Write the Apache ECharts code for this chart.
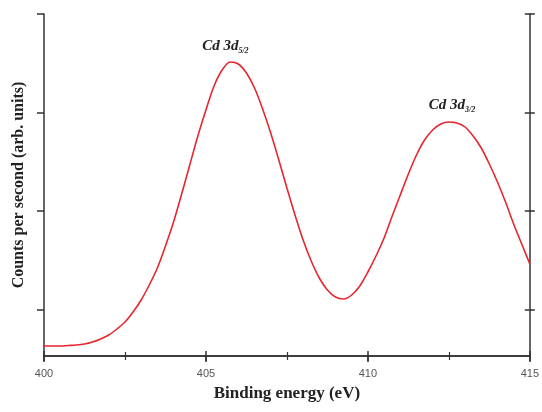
<!DOCTYPE html>
<html><head><meta charset="utf-8">
<script src="https://cdn.jsdelivr.net/npm/echarts@6/dist/echarts.min.js"></script>
<style>html,body{margin:0;padding:0;background:#fff}#c{width:542px;height:412px}</style>
</head><body><div id="c"></div>
<script>
// Binding energy (eV), 0.25 eV steps
var energy = [400,400.25,400.5,400.75,401,401.25,401.5,401.75,402,402.25,402.5,402.75,403,403.25,403.5,403.75,404,404.25,404.5,404.75,405,405.25,405.5,405.75,406,406.25,406.5,406.75,407,407.25,407.5,407.75,408,408.25,408.5,408.75,409,409.25,409.5,409.75,410,410.25,410.5,410.75,411,411.25,411.5,411.75,412,412.25,412.5,412.75,413,413.25,413.5,413.75,414,414.25,414.5,414.75,415];
// Counts (arb. units)
var counts = [10,10,10,10.5,11,12,14,17,21,27,34,44,56,71,88,110,134,162,191,220,246,270,286,294,292,283,268,247,223,196,168,141,116,95,78,66,59,57,61,70,84,100,118,140,161,182,201,216,226,232,234,233,229,220,208,192,174,154,132,112,92];
var xTicks = [400,405,410,415];
var yTicks = [46.5,145,243.5,342];
var peakLabels = [
  {name:'Cd 3d', sub:'5/2', x:405.6, y:310},
  {name:'Cd 3d', sub:'3/2', x:412.6, y:251}
];

var data = energy.map(function(e,i){return [e,counts[i]];});
var axisLine = {show:true, lineStyle:{color:'#333', width:1.5}};
var chart = echarts.init(document.getElementById('c'));
chart.setOption({
  animation:false,
  grid:{left:44, right:9, top:14, bottom:56},
  xAxis:[
    {type:'value', min:400, max:415, interval:5, position:'bottom',
     axisLine:axisLine,
     axisTick:{show:true, length:6, lineStyle:{color:'#333', width:1.5}},
     minorTick:{show:true, splitNumber:2, length:4, lineStyle:{color:'#333', width:1.2}},
     splitLine:{show:false},
     axisLabel:{color:'#555', fontFamily:'Liberation Sans', fontSize:11, margin:12},
     name:'Binding energy (eV)', nameLocation:'middle', nameGap:29,
     nameTextStyle:{fontFamily:'Liberation Serif', fontWeight:'bold', fontSize:17, color:'#222'}},
    {type:'value', min:400, max:415, interval:5, position:'top',
     axisLine:axisLine,
     axisTick:{show:true, length:5, lineStyle:{color:'#333', width:1.5}},
     minorTick:{show:true, splitNumber:2, length:4, lineStyle:{color:'#333', width:1.2}},
     splitLine:{show:false}, axisLabel:{show:false}},
    {type:'value', min:400, max:415, interval:5, position:'top',
     axisLine:{show:false},
     axisTick:{show:true, inside:true, length:5, lineStyle:{color:'#333', width:1.5}},
     splitLine:{show:false}, axisLabel:{show:false}}
  ],
  yAxis:[
    {type:'value', min:0, max:342, position:'left',
     axisLine:axisLine,
     axisTick:{show:true, length:7, customValues:yTicks, lineStyle:{color:'#333', width:1.5}},
     splitLine:{show:false}, axisLabel:{show:false},
     name:'Counts per second (arb. units)', nameLocation:'middle', nameGap:17,
     nameTextStyle:{fontFamily:'Liberation Serif', fontWeight:'bold', fontSize:16, color:'#222'}},
    {type:'value', min:0, max:342, position:'right',
     axisLine:axisLine,
     axisTick:{show:true, length:5, customValues:yTicks, lineStyle:{color:'#333', width:1.5}},
     splitLine:{show:false}, axisLabel:{show:false}},
    {type:'value', min:0, max:342, position:'right',
     axisLine:{show:false},
     axisTick:{show:true, inside:true, length:5, customValues:yTicks, lineStyle:{color:'#333', width:1.5}},
     splitLine:{show:false}, axisLabel:{show:false}}
  ],
  series:[{
    type:'line', data:data, smooth:0.3, showSymbol:false,
    lineStyle:{color:'#e8262e', width:1.6},
    markPoint:{
      symbol:'circle', symbolSize:0,
      label:{show:true, position:'inside',
        formatter:function(p){return '{a|'+p.data.n+'}{b|'+p.data.s+'}';},
        rich:{
          a:{fontFamily:'Liberation Serif', fontStyle:'italic', fontWeight:'bold', fontSize:15, color:'#222'},
          b:{fontFamily:'Liberation Serif', fontStyle:'italic', fontWeight:'bold', fontSize:8, color:'#222', padding:[9,0,0,0]}
        }},
      data:peakLabels.map(function(p){return {coord:[p.x,p.y], n:p.name, s:p.sub};})
    }
  }]
});
</script></body></html>
